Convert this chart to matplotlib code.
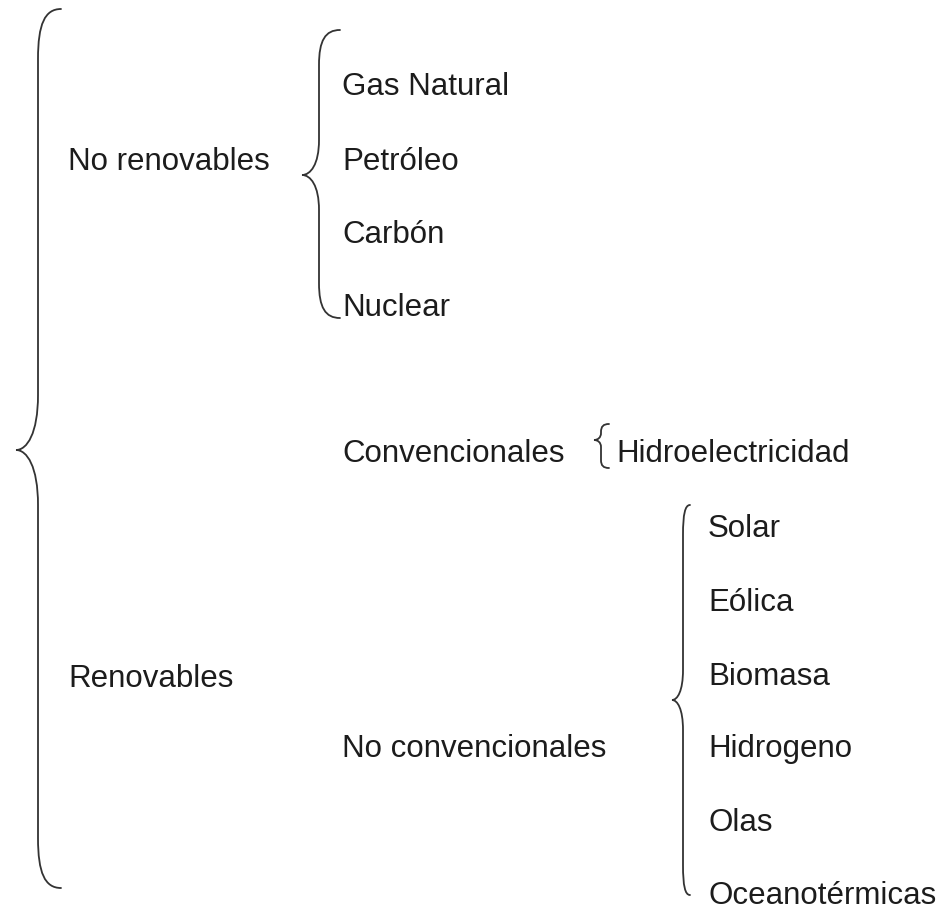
import matplotlib
matplotlib.use("Agg")
import matplotlib.pyplot as plt
from matplotlib.path import Path
from matplotlib.patches import PathPatch

# Labels
level1 = ["No renovables", "Renovables"]
level2_nr = ["Gas Natural", "Petróleo", "Carbón", "Nuclear"]
level2_r = ["Convencionales", "No convencionales"]
conv_items = ["Hidroelectricidad"]
noconv_items = ["Solar", "Eólica", "Biomasa", "Hidrogeno", "Olas", "Oceanotérmicas"]

W, H = 944, 911
fig = plt.figure(figsize=(W / 100, H / 100), dpi=100)
ax = fig.add_axes([0, 0, 1, 1])
ax.set_xlim(0, W)
ax.set_ylim(H, 0)
ax.axis("off")

FS = 22.5
TC = "#1c1c1c"
font = dict(family=["Liberation Sans", "DejaVu Sans"], fontsize=FS, color=TC, va="center", ha="left")


def brace(x_end, x_line, x_tip, y_top, y_tip, y_bot, r=None, r2=None):
    if r is None:
        r = min(40, (y_tip - y_top) * 0.25)
    if r2 is None:
        r2 = r
    verts = [
        (x_end, y_top),
        (x_line + (x_end - x_line) * 0.3, y_top), (x_line, y_top + r * 0.3), (x_line, y_top + r),
        (x_line, y_tip - r2),
        (x_line, y_tip - r2 * 0.3), (x_tip + (x_line - x_tip) * 0.5, y_tip), (x_tip, y_tip),
        (x_tip + (x_line - x_tip) * 0.5, y_tip), (x_line, y_tip + r2 * 0.3), (x_line, y_tip + r2),
        (x_line, y_bot - r),
        (x_line, y_bot - r * 0.3), (x_line + (x_end - x_line) * 0.3, y_bot), (x_end, y_bot),
    ]
    codes = [Path.MOVETO,
             Path.CURVE4, Path.CURVE4, Path.CURVE4,
             Path.LINETO,
             Path.CURVE4, Path.CURVE4, Path.CURVE4,
             Path.CURVE4, Path.CURVE4, Path.CURVE4,
             Path.LINETO,
             Path.CURVE4, Path.CURVE4, Path.CURVE4]
    ax.add_patch(PathPatch(Path(verts, codes), fill=False, lw=1.3, ec="#333333", capstyle="round"))


# braces
brace(61, 38, 16, 9, 450, 888, r=50, r2=55)
brace(340, 319, 302, 30, 175, 318, r=35)
brace(609, 601, 594, 424, 440, 468, r=8, r2=7)
brace(690, 683, 672, 505, 700, 895, r=30)

# level 1
ax.text(68, 162, level1[0], **font)
ax.text(68, 679, level1[1], **font)

# level 2 non renewables
for t, y in zip(level2_nr, [87, 162, 235, 308]):
    ax.text(342, y, t, **font)

ax.text(342, 454, level2_r[0], **font)
ax.text(616, 454, conv_items[0], **font)
ax.text(342, 749, level2_r[1], **font)

for t, y in zip(noconv_items, [529, 603, 677, 749, 823, 896]):
    ax.text(708, y, t, **font)

fig.savefig("out.png", dpi=100, facecolor="white")
